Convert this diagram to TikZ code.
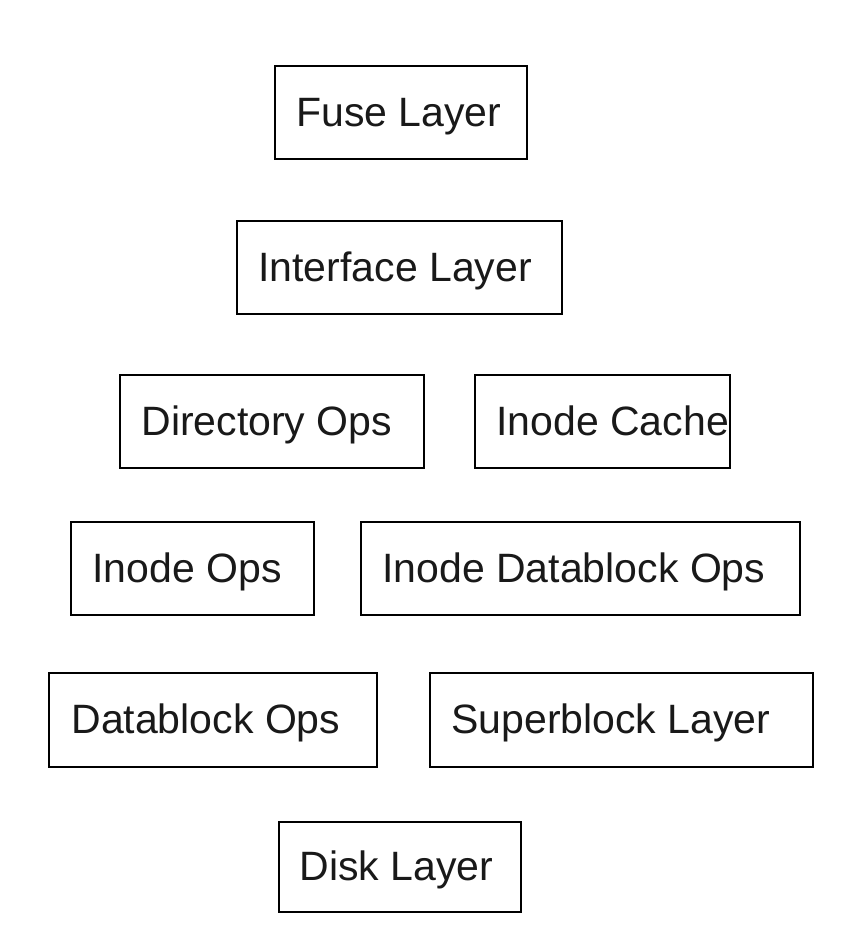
\documentclass[tikz,border=0pt]{standalone}
\usepackage{fontspec}
\setmainfont{Liberation Sans}
\begin{document}
\begin{tikzpicture}[x=1pt,y=-1pt,
  layerbox/.style={draw=black, line width=1.6pt, rectangle, inner sep=0pt,
    minimum height=93pt},
  layertext/.style={anchor=base west, inner sep=0pt,
    font=\fontsize{41}{47}\selectfont, text=black!90}]
\useasboundingbox (0,0) rectangle (854,940);
\fill[white] (0,0) rectangle (854,940);
\node[layerbox, minimum width=252pt] (fuse) at (401,112.5) {};
\node[layerbox, minimum width=325pt] (iface) at (399.5,267.5) {};
\node[layerbox, minimum width=304pt] (dirops) at (272,421.5) {};
\node[layerbox, minimum width=255pt] (icache) at (602.5,421.5) {};
\node[layerbox, minimum width=243pt] (iops) at (192.5,568.5) {};
\node[layerbox, minimum width=439pt] (idbops) at (580.5,568.5) {};
\node[layerbox, minimum width=328pt, minimum height=94pt] (dbops) at (213,720) {};
\node[layerbox, minimum width=383pt, minimum height=94pt] (super) at (621.5,720) {};
\node[layerbox, minimum width=242pt, minimum height=90pt] (disk) at (400,867) {};
\node[layertext] (fuset) at ([shift={(22pt,-13.5pt)}]fuse.west) {Fuse Layer};
\node[layertext] (ifacet) at ([shift={(22pt,-13.5pt)}]iface.west) {Interface Layer};
\node[layertext] (diropst) at ([shift={(22pt,-13.5pt)}]dirops.west) {Directory Ops};
\node[layertext] (icachet) at ([shift={(22pt,-13.5pt)}]icache.west) {Inode Cache};
\node[layertext] (iopst) at ([shift={(22pt,-13.5pt)}]iops.west) {Inode Ops};
\node[layertext] (idbopst) at ([shift={(22pt,-13.5pt)}]idbops.west) {Inode Datablock Ops};
\node[layertext] (dbopst) at ([shift={(23pt,-13.5pt)}]dbops.west) {Datablock Ops};
\node[layertext] (supert) at ([shift={(22pt,-13.5pt)}]super.west) {Superblock Layer};
\node[layertext] (diskt) at ([shift={(21pt,-13.5pt)}]disk.west) {Disk Layer};
\end{tikzpicture}
\end{document}
